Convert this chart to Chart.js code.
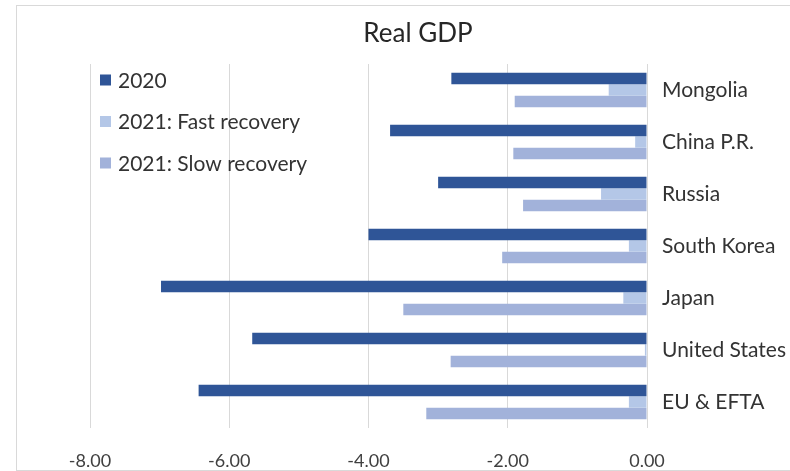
<!DOCTYPE html>
<html>
<head>
<meta charset="utf-8">
<script src="https://cdn.jsdelivr.net/npm/chart.js@4/dist/chart.umd.min.js"></script>
<style>
  html, body { margin: 0; padding: 0; background: #ffffff; }
  #wrap { position: relative; width: 790px; height: 471px; overflow: hidden; }
  #frame { position: absolute; left: 16px; top: 5px; width: 820px; height: 464px;
           border: 1px solid #d9d9d9; pointer-events: none; }
</style>
</head>
<body>
<div id="wrap">
  <canvas id="chart" width="790" height="471"></canvas>
  <div id="frame"></div>
</div>
<script>
// Real GDP change by economy (percent)
const categories = ['Mongolia', 'China P.R.', 'Russia', 'South Korea', 'Japan', 'United States', 'EU & EFTA'];
const seriesNames = ['2020', '2021: Fast recovery', '2021: Slow recovery'];
const gdp2020 = [-2.81, -3.69, -3.00, -4.00, -6.98, -5.67, -6.44];
const fastRecovery2021 = [-0.55, -0.17, -0.66, -0.26, -0.34, -0.03, -0.26];
const slowRecovery2021 = [-1.90, -1.92, -1.78, -2.08, -3.50, -2.82, -3.17];
const xTickValues = [-8, -6, -4, -2, 0];
const chartTitle = 'Real GDP';

const seriesColors = ['#2f5597', '#b4c7e7', '#a2b2da'];
const fontFamily = 'Lato, "Open Sans", sans-serif';

// Title centred above the whole frame
const frameTitle = {
  id: 'frameTitle',
  afterDraw(chart) {
    const { ctx } = chart;
    ctx.save();
    ctx.font = '26px ' + fontFamily;
    ctx.fillStyle = '#262626';
    ctx.textAlign = 'center';
    ctx.textBaseline = 'alphabetic';
    ctx.fillText(chartTitle, 418, 42);
    ctx.restore();
  }
};

// Legend drawn inside the plot area, top-left, stacked vertically
const insideLegend = {
  id: 'insideLegend',
  afterDraw(chart) {
    const { ctx, chartArea } = chart;
    ctx.save();
    ctx.font = '21px ' + fontFamily;
    ctx.textBaseline = 'middle';
    ctx.textAlign = 'left';
    chart.data.datasets.forEach((ds, i) => {
      const cy = chartArea.top + 16 + i * 41.5;
      const bx = chartArea.left + 10;
      ctx.fillStyle = ds.backgroundColor;
      ctx.fillRect(bx, cy - 5.5, 11, 11);
      ctx.fillStyle = '#333333';
      ctx.fillText(ds.label, bx + 18, cy + 1);
    });
    ctx.restore();
  }
};

new Chart(document.getElementById('chart'), {
  type: 'bar',
  data: {
    labels: categories,
    datasets: [
      { label: seriesNames[0], data: gdp2020, backgroundColor: seriesColors[0] },
      { label: seriesNames[1], data: fastRecovery2021, backgroundColor: seriesColors[1] },
      { label: seriesNames[2], data: slowRecovery2021, backgroundColor: seriesColors[2] }
    ]
  },
  options: {
    indexAxis: 'y',
    responsive: false,
    animation: false,
    devicePixelRatio: 1,
    layout: { padding: { left: 90, top: 64, right: 0, bottom: 0 } },
    datasets: { bar: { categoryPercentage: 0.66, barPercentage: 1.0 } },
    plugins: {
      legend: { display: false },
      tooltip: { enabled: false },
      title: { display: false }
    },
    scales: {
      x: {
        min: -8,
        max: 0,
        afterBuildTicks(scale) { scale.ticks = xTickValues.map(v => ({ value: v })); },
        afterFit(scale) { scale.height = 43; },
        grid: { color: '#d9d9d9', lineWidth: 1, drawTicks: false },
        border: { display: false },
        ticks: {
          padding: 22,
          color: '#404040',
          font: { family: fontFamily, size: 18 },
          callback: v => Number(v).toFixed(2)
        }
      },
      y: {
        position: 'right',
        afterFit(scale) { scale.width = 143; },
        grid: { display: false, drawTicks: false },
        border: { display: false },
        ticks: {
          padding: 15,
          color: '#333333',
          font: { family: fontFamily, size: 21 }
        }
      }
    }
  },
  plugins: [frameTitle, insideLegend]
});
</script>
</body>
</html>
